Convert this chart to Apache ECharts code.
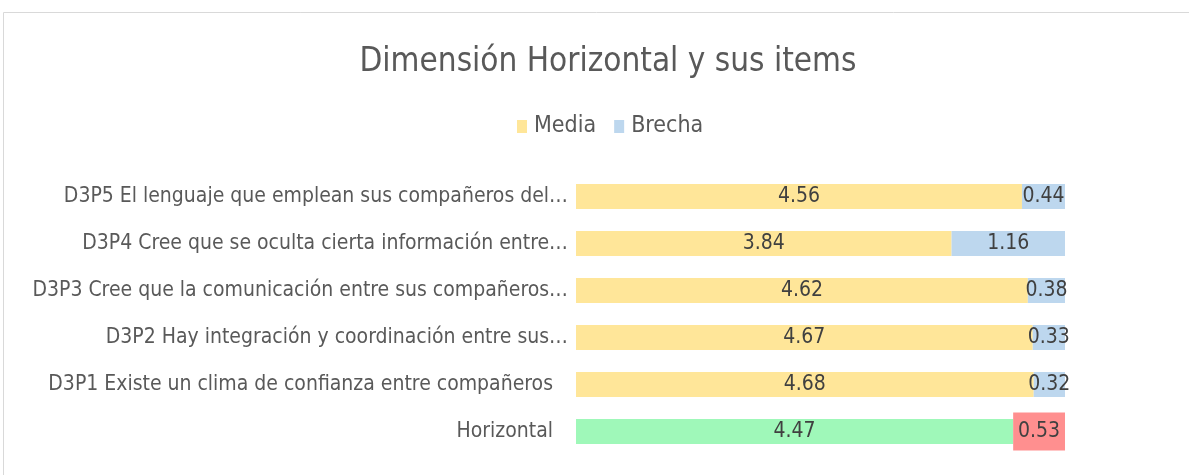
<!DOCTYPE html>
<html>
<head>
<meta charset="utf-8">
<script src="https://cdn.jsdelivr.net/npm/echarts@6/dist/echarts.min.js"></script>
<style>
  html, body { margin: 0; padding: 0; background: #fff; }
  #main { width: 1189px; height: 475px; }
</style>
</head>
<body>
<div id="main"></div>
<script>
// categories, bottom to top (as the axis draws them)
var items = [
  'Horizontal',
  'D3P1 Existe un clima de confianza entre compañeros',
  'D3P2 Hay integración y coordinación entre sus…',
  'D3P3 Cree que la comunicación entre sus compañeros…',
  'D3P4 Cree que se oculta cierta información entre…',
  'D3P5 El lenguaje que emplean sus compañeros del…'
];
var media  = [4.47, 4.68, 4.67, 4.62, 3.84, 4.56];
var brecha = [0.53, 0.32, 0.33, 0.38, 1.16, 0.44];

var FONT = "'Liberation Sans Narrow', 'DejaVu Sans Condensed', sans-serif";

function fmt(p) { return p.value.toFixed(2); }

// la fila "Horizontal" va en verde; su brecha roja se dibuja aparte, más alta
var mediaData = media.map(function (v, i) {
  if (i === 0) return { value: v, itemStyle: { color: '#9FF8B9' } };
  return v;
});
var brechaData = brecha.map(function (v, i) {
  if (i === 0) return { value: v, itemStyle: { color: 'rgba(0,0,0,0)' }, label: { show: false } };
  return v;
});
// eje auxiliar: base invisible + brecha roja sólo en la fila 0
var baseHoriz = media.map(function (v, i) { return i === 0 ? v : '-'; });
var brechaHoriz = brecha.map(function (v, i) { return i === 0 ? v : '-'; });

var chart = echarts.init(document.getElementById('main'));

var labelStyle = {
  show: true,
  position: 'inside',
  color: '#404040',
  fontSize: 21,
  fontFamily: FONT,
  padding: [3, 0, 0, 0],
  formatter: fmt
};

chart.setOption({
  animation: false,
  textStyle: { fontFamily: FONT },
  graphic: [{
    type: 'rect',
    shape: { x: 3.5, y: 12.5, width: 1200, height: 500 },
    style: { fill: 'none', stroke: '#D9D9D9', lineWidth: 1 },
    z: -1
  }],
  title: {
    text: 'Dimensión Horizontal y sus items',
    left: 603,
    textAlign: 'center',
    top: 41,
    textStyle: { color: '#595959', fontSize: 33, fontWeight: 'normal', fontFamily: FONT }
  },
  legend: {
    data: ['Media', 'Brecha'],
    left: 512,
    top: 110,
    icon: 'rect',
    itemWidth: 10,
    itemHeight: 13,
    itemGap: 18,
    textStyle: { color: '#595959', fontSize: 23, fontFamily: FONT, padding: [0, 0, 0, 2] }
  },
  grid: {
    left: 576,
    right: 124,
    top: 173,
    bottom: 20,
    containLabel: false
  },
  xAxis: {
    type: 'value',
    min: 0,
    max: 5,
    show: false
  },
  yAxis: [{
    type: 'category',
    data: items,
    axisLine: { show: false },
    axisTick: { show: false },
    axisLabel: {
      color: '#595959',
      fontSize: 21,
      fontFamily: FONT,
      margin: 8,
      formatter: function (v) {
        // los rótulos no recortados llevan un hueco al final
        return v.slice(-1) === '…' ? v : '{p|' + v + '}';
      },
      rich: {
        p: { color: '#595959', fontSize: 21, fontFamily: FONT, padding: [0, 15, 0, 0] }
      }
    }
  }, {
    type: 'category',
    data: items,
    show: false
  }],
  series: [
    {
      name: 'Media',
      type: 'bar',
      stack: 'total',
      barWidth: 25,
      itemStyle: { color: '#FFE699' },
      label: labelStyle,
      data: mediaData
    },
    {
      name: 'Brecha',
      type: 'bar',
      stack: 'total',
      barWidth: 25,
      itemStyle: { color: '#BDD7EE' },
      label: labelStyle,
      data: brechaData
    },
    {
      name: 'base',
      type: 'bar',
      yAxisIndex: 1,
      stack: 'horiz',
      barWidth: 38,
      silent: true,
      itemStyle: { color: 'rgba(0,0,0,0)' },
      data: baseHoriz
    },
    {
      name: 'Brecha',
      type: 'bar',
      yAxisIndex: 1,
      stack: 'horiz',
      barWidth: 38,
      itemStyle: { color: '#FF8F8F' },
      label: labelStyle,
      data: brechaHoriz
    }
  ]
});
</script>
</body>
</html>
